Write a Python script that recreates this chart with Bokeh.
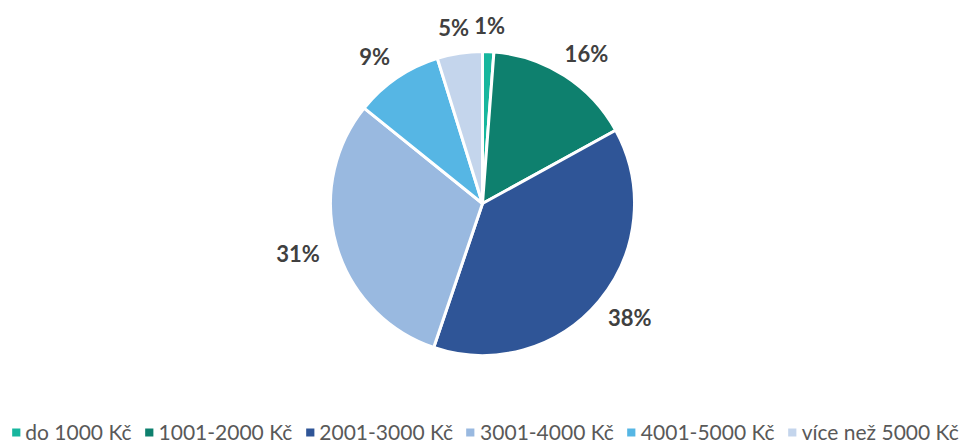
import math
from bokeh.plotting import figure
from bokeh.models import ColumnDataSource, Range1d, Legend, LegendItem
from bokeh.core.properties import value
from bokeh.embed import file_html
from bokeh.resources import INLINE

categories = ["do 1000 Kč", "1001-2000 Kč", "2001-3000 Kč", "3001-4000 Kč", "4001-5000 Kč", "více než 5000 Kč"]
shares = [1.2, 15.8, 38.2, 30.6, 9.4, 4.8]
labels = ["1%", "16%", "38%", "31%", "9%", "5%"]
colors = ["#17B69E", "#0E806E", "#2F5597", "#99B9E0", "#56B6E4", "#C4D5EC"]

W, H = 967, 444
cx, cy, R = 482, 241, 152

p = figure(width=W, height=H, output_backend="svg", toolbar_location=None,
           x_range=Range1d(0, W), y_range=Range1d(0, H), min_border=0)
p.axis.visible = False
p.grid.visible = False
p.outline_line_color = None
p.background_fill_color = "white"
p.border_fill_color = "white"

total = sum(shares)
starts, ends, lx, ly = [], [], [], []
cum = 0.0
gap, hw, hh = 16, 24, 10
for s in shares:
    a0 = cum / total * 2 * math.pi
    cum += s
    a1 = cum / total * 2 * math.pi
    starts.append(math.pi / 2 - a0)
    ends.append(math.pi / 2 - a1)
    mid = (a0 + a1) / 2
    dx, dy = math.sin(mid), math.cos(mid)
    lx.append(cx + (R + gap) * dx + hw * dx)
    ly.append(cy + (R + gap) * dy + hh * dy)

items = []
for i, c in enumerate(categories):
    src = ColumnDataSource(dict(x=[cx], y=[cy], s=[starts[i]], e=[ends[i]]))
    r = p.wedge(x="x", y="y", radius=R, start_angle="s", end_angle="e",
                direction="clock", fill_color=colors[i], line_color="white",
                line_width=3, source=src)
    items.append(LegendItem(label=c, renderers=[r]))

lsrc = ColumnDataSource(dict(x=lx, y=ly, t=labels))
p.text(x="x", y="y", text="t", source=lsrc, text_align="center",
       text_baseline="middle", text_font=value("Lato"), text_font_style="bold",
       text_font_size="22px", text_color="#404040")

legend = Legend(items=items, orientation="horizontal", location="bottom_center",
                label_text_font="Lato", label_text_font_size="21px",
                label_text_color="#595959", glyph_width=14, glyph_height=14,
                label_standoff=3, spacing=10, padding=0, margin=0,
                border_line_color=None, background_fill_alpha=0)
p.add_layout(legend, "center")

open("out.html", "w").write(file_html(p, INLINE))
